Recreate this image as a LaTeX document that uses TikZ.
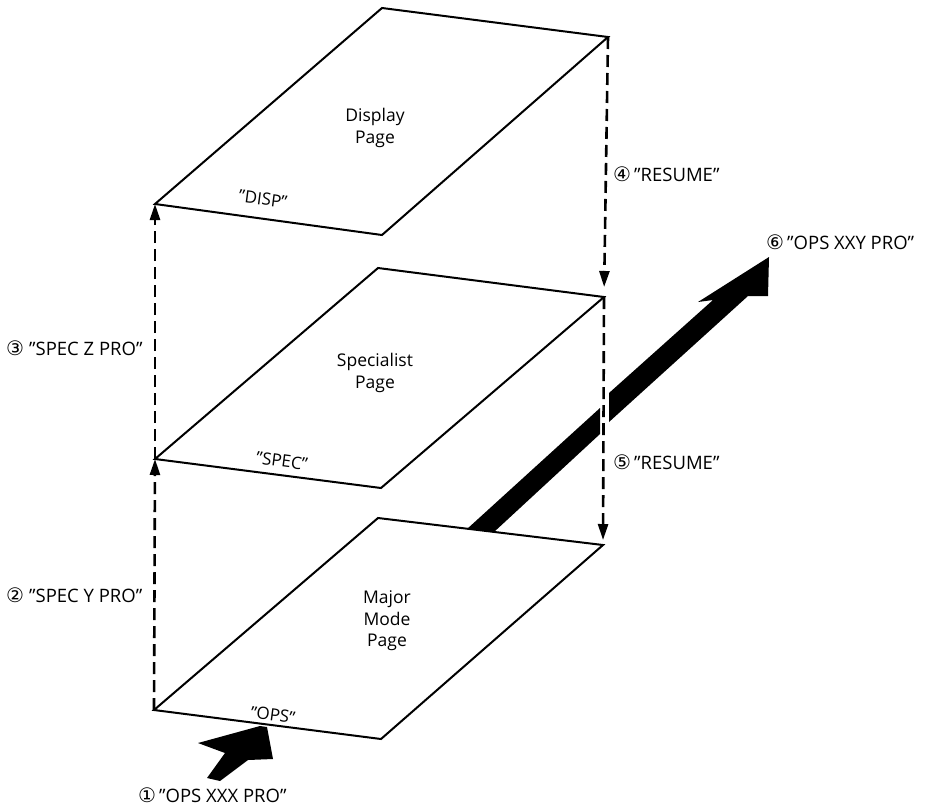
\documentclass[tikz,border=0pt]{standalone}
\usepackage{fontspec}
\setmainfont{Open Sans}
\newfontfamily\circfont{DejaVu Sans}
\newcommand{\stepno}[1]{{\circfont\fontsize{20}{20}\selectfont #1}}
\usetikzlibrary{arrows.meta}
\begin{document}
\begin{tikzpicture}[x=1pt,y=-1pt,
  page/.style={draw=black,line width=2pt,line join=miter},
  pagetext/.style={align=center,font=\fontsize{17.5}{21.5}\selectfont,inner sep=0pt},
  edgetext/.style={font=\fontsize{17}{19}\selectfont,inner sep=0pt,rotate=-7.5},
  steplabel/.style={font=\fontsize{18.5}{20}\selectfont,inner sep=0pt,anchor=west},
  jump/.style={dash pattern=on 12pt off 6pt,line width=2.6pt,
    -{Triangle[length=16pt,width=10pt]}},
  bigarrow/.style={fill=black,draw=none}]
\useasboundingbox (0,0) rectangle (925,809);

% page corners (left, bottom, right, top)
\coordinate (dL) at (155,204); \coordinate (dB) at (382,235);
\coordinate (dR) at (608,37);  \coordinate (dT) at (382,8);
\coordinate (sL) at (155,459); \coordinate (sB) at (381,488);
\coordinate (sR) at (604,297); \coordinate (sT) at (378,268);
\coordinate (mL) at (154,710); \coordinate (mB) at (381,739);
\coordinate (mR) at (603,545); \coordinate (mT) at (378,518);

% the three pages
\draw[page] (dL) -- (dB) -- (dR) -- (dT) -- cycle;
\draw[page] (sL) -- (sB) -- (sR) -- (sT) -- cycle;
\draw[page] (mL) -- (mB) -- (mR) -- (mT) -- cycle;

\node[pagetext] (disp)  at (375,128) {Display\\Page};
\node[pagetext] (spec)  at (375,373) {Specialist\\Page};
\node[pagetext] (major) at (387,621) {Major\\Mode\\Page};

\node[edgetext] (dispkey)  at (263,199) {"DISP"};
\node[edgetext] (speckey)  at (282,461) {"SPEC"};
\node[edgetext] (opskey)   at (273,715) {"OPS"};

% entry arrow into the major mode page
\coordinate (inTip) at (260,726);
\fill[bigarrow] (inTip) -- (267,727) -- (273,759) -- (248,760) -- (220,781)
  -- (207,778) -- (225,753) -- (198,743) -- cycle;

% exit arrow leaving the major mode page (broken where it passes the drop line)
\coordinate (outTip) at (769,257);
\fill[bigarrow] (467,529) -- (494,532) -- (600,434) -- (600,408) -- cycle;
\fill[bigarrow] (609,393) -- (713,300) -- (698,302) -- (outTip) -- (768,296)
  -- (748,296) -- (609,422) -- cycle;

% moves between pages
\draw[jump] (mL) -- (sL);
\draw[jump] (sL) -- (dL);
\draw[jump,shorten >=10pt] (dR) -- (sR);
\draw[jump,shorten >=5pt] (sR) -- (mR);

% step labels
\node[steplabel] (st1) at (138,795) {\stepno{①}\,"OPS XXX PRO"};
\node[steplabel] (st2) at (6,595)   {\stepno{②}\hspace{5pt}"SPEC Y PRO"};
\node[steplabel] (st3) at (6,348)   {\stepno{③}\hspace{5pt}"SPEC Z PRO"};
\node[steplabel] (st4) at (613,174) {\stepno{④}\,"RESUME"};
\node[steplabel] (st5) at (613,462) {\stepno{⑤}\,"RESUME"};
\node[steplabel] (st6) at (766,242) {\stepno{⑥}\,"OPS XXY PRO"};
\end{tikzpicture}
\end{document}
